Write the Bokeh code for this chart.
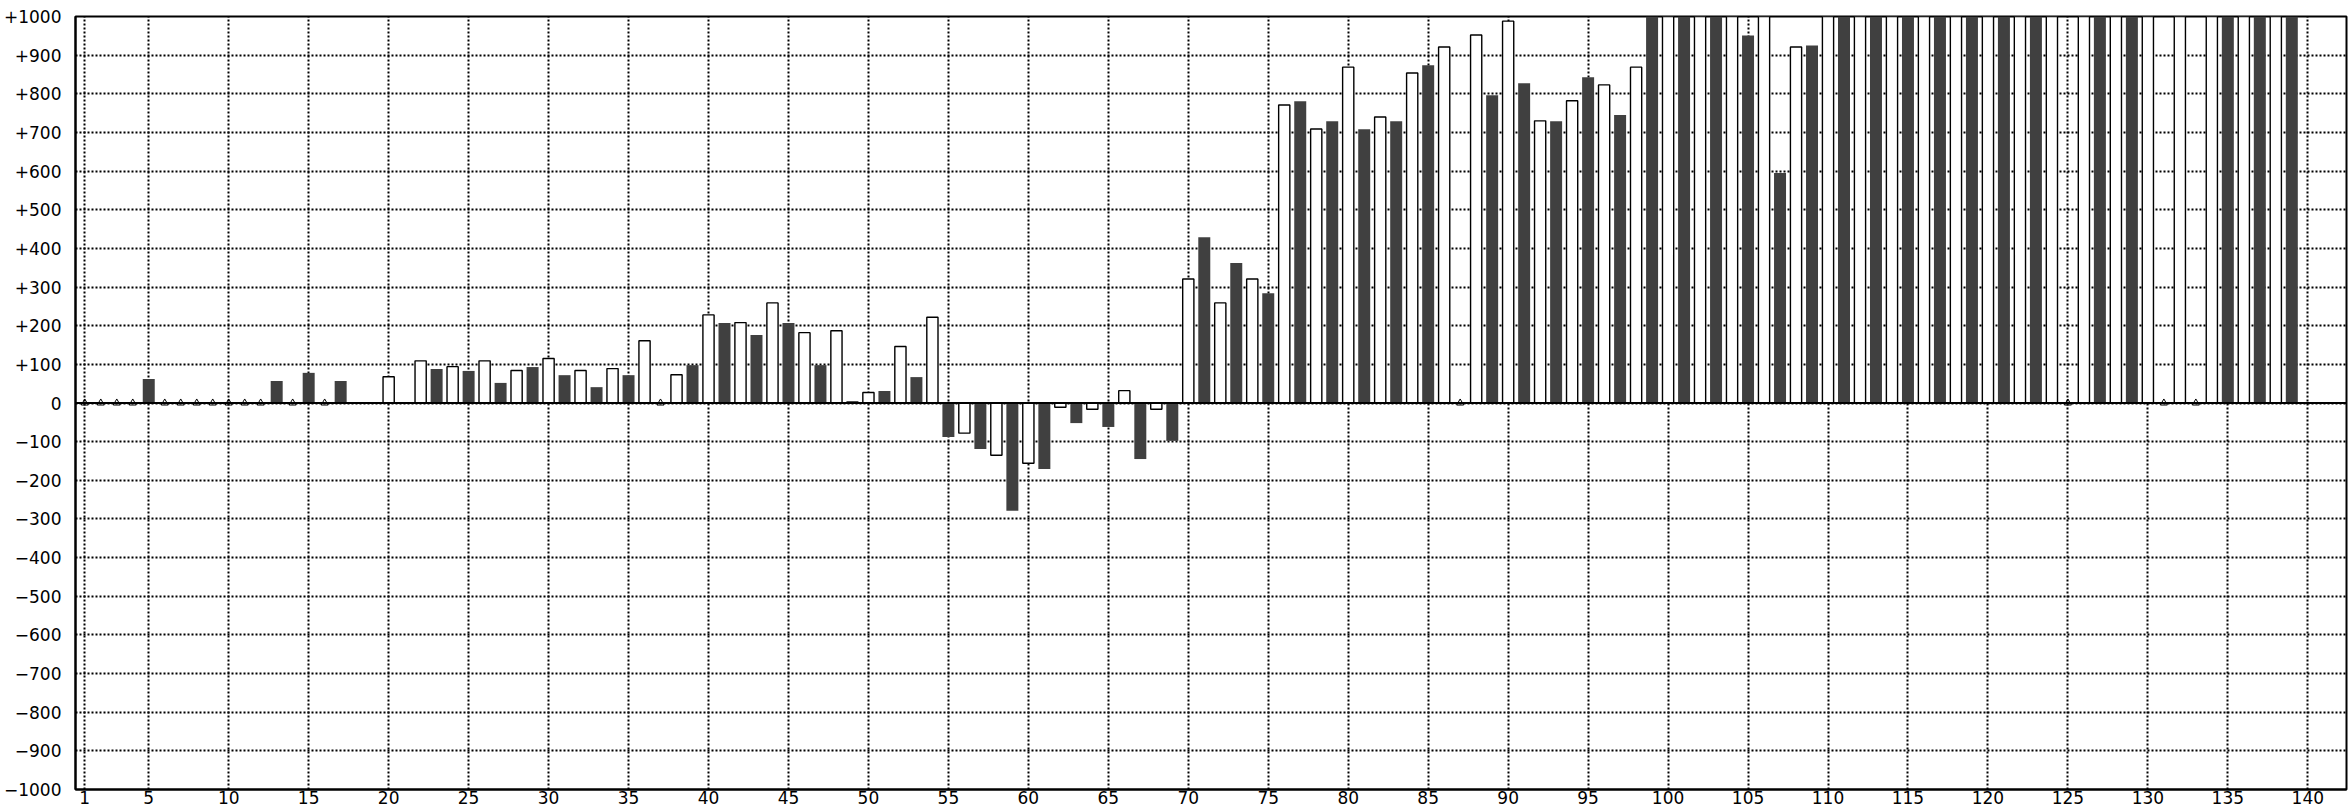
from bokeh.plotting import figure
from bokeh.models import Span, FixedTicker, Range1d
from bokeh.embed import file_html
from bokeh.resources import INLINE

# ---- data ----
indices = list(range(1, 141))
values = [
    0, 0, 0, 0, 62, 0, 0, 0, 0, 0,            # 1-10
    0, 0, 57, 0, 78, 0, 57, None, None, 68,   # 11-20
    None, 109, 88, 94, 83, 109, 52, 84, 93, 115,   # 21-30
    72, 84, 41, 89, 72, 161, 0, 73, 98, 228,       # 31-40
    207, 208, 176, 259, 207, 182, 98, 187, 5, 27,  # 41-50
    31, 146, 67, 222, -88, -78, -119, -135, -279, -156,  # 51-60
    -171, -11, -52, -16, -62, 32, -145, -16, -98, 321,   # 61-70
    429, 259, 362, 321, 284, 771, 781, 709, 729, 869,    # 71-80
    708, 740, 729, 854, 874, 921, 0, 952, 796, 988,      # 81-90
    827, 730, 729, 782, 843, 823, 745, 869, 1000, 1000,  # 91-100
    1000, 1000, 1000, 1000, 951, 1000, 595, 921, 925, 1000,  # 101-110
    1000, 1000, 1000, 1000, 1000, 1000, 1000, 1000, 1000, 1000,  # 111-120
    1000, 1000, 1000, 1000, 0, 1000, 1000, 1000, 1000, 1000,  # 121-130
    0, 1000, 0, 1000, 1000, 1000, 1000, 1000, 1000, None,    # 131-140
]
x_ticks = [1] + list(range(5, 141, 5))
y_ticks = list(range(-1000, 1001, 100))
y_tick_labels = {
    v: ("+%d" % v if v > 0 else ("0" if v == 0 else "\u2212%d" % (-v)))
    for v in y_ticks
}

# series split: even positions drawn hollow, odd positions drawn solid
white_x = [i for i, v in zip(indices, values) if v not in (None, 0) and i % 2 == 0]
white_v = [v for i, v in zip(indices, values) if v not in (None, 0) and i % 2 == 0]
dark_x = [i for i, v in zip(indices, values) if v not in (None, 0) and i % 2 == 1]
dark_v = [v for i, v in zip(indices, values) if v not in (None, 0) and i % 2 == 1]
zero_x = [i for i, v in zip(indices, values) if v == 0]

FONT = "DejaVu Sans"
DARK = "#404040"

p = figure(
    width=2348, height=810,
    x_range=Range1d(0.42, 142.42), y_range=Range1d(-1000, 1000),
    output_backend="svg", toolbar_location=None,
    min_border_top=16, min_border_right=2, min_border_left=74, min_border_bottom=21,
    background_fill_color="white", border_fill_color="white",
)
p.outline_line_color = "black"
p.outline_line_width = 2

# grids
p.xgrid.ticker = FixedTicker(ticks=x_ticks)
p.ygrid.ticker = FixedTicker(ticks=y_ticks)
for g in (p.xgrid, p.ygrid):
    g.grid_line_color = "black"
    g.grid_line_dash = "2 2"
    g.grid_line_width = 2
    g.grid_line_alpha = 1.0

# axes
p.xaxis.ticker = FixedTicker(ticks=x_ticks)
p.yaxis.ticker = FixedTicker(ticks=y_ticks)
p.yaxis.major_label_overrides = y_tick_labels
for ax in (p.xaxis, p.yaxis):
    ax.major_tick_out = 0
    ax.major_tick_in = 0
    ax.minor_tick_out = 0
    ax.minor_tick_in = 0
    ax.axis_line_color = "black"
    ax.axis_line_width = 2
    ax.major_label_text_font = FONT
    ax.major_label_text_font_size = "17px"
    ax.major_label_text_color = "black"
p.xaxis.major_label_standoff = 1
p.yaxis.major_label_standoff = 14

# bars
p.vbar(x=dark_x, top=dark_v, bottom=0, width=0.75,
       fill_color=DARK, line_color=None)
p.vbar(x=white_x, top=white_v, bottom=0, width=0.7,
       fill_color="white", line_color="black", line_width=1.4)

# zero line
p.add_layout(Span(location=0, dimension="width", line_color="black", line_width=2))

# zero-value markers
p.scatter(x=zero_x, y=[0] * len(zero_x), marker="triangle", size=7,
          fill_color=None, line_color="black", line_width=1)

open("out.html", "w").write(file_html(p, INLINE))
